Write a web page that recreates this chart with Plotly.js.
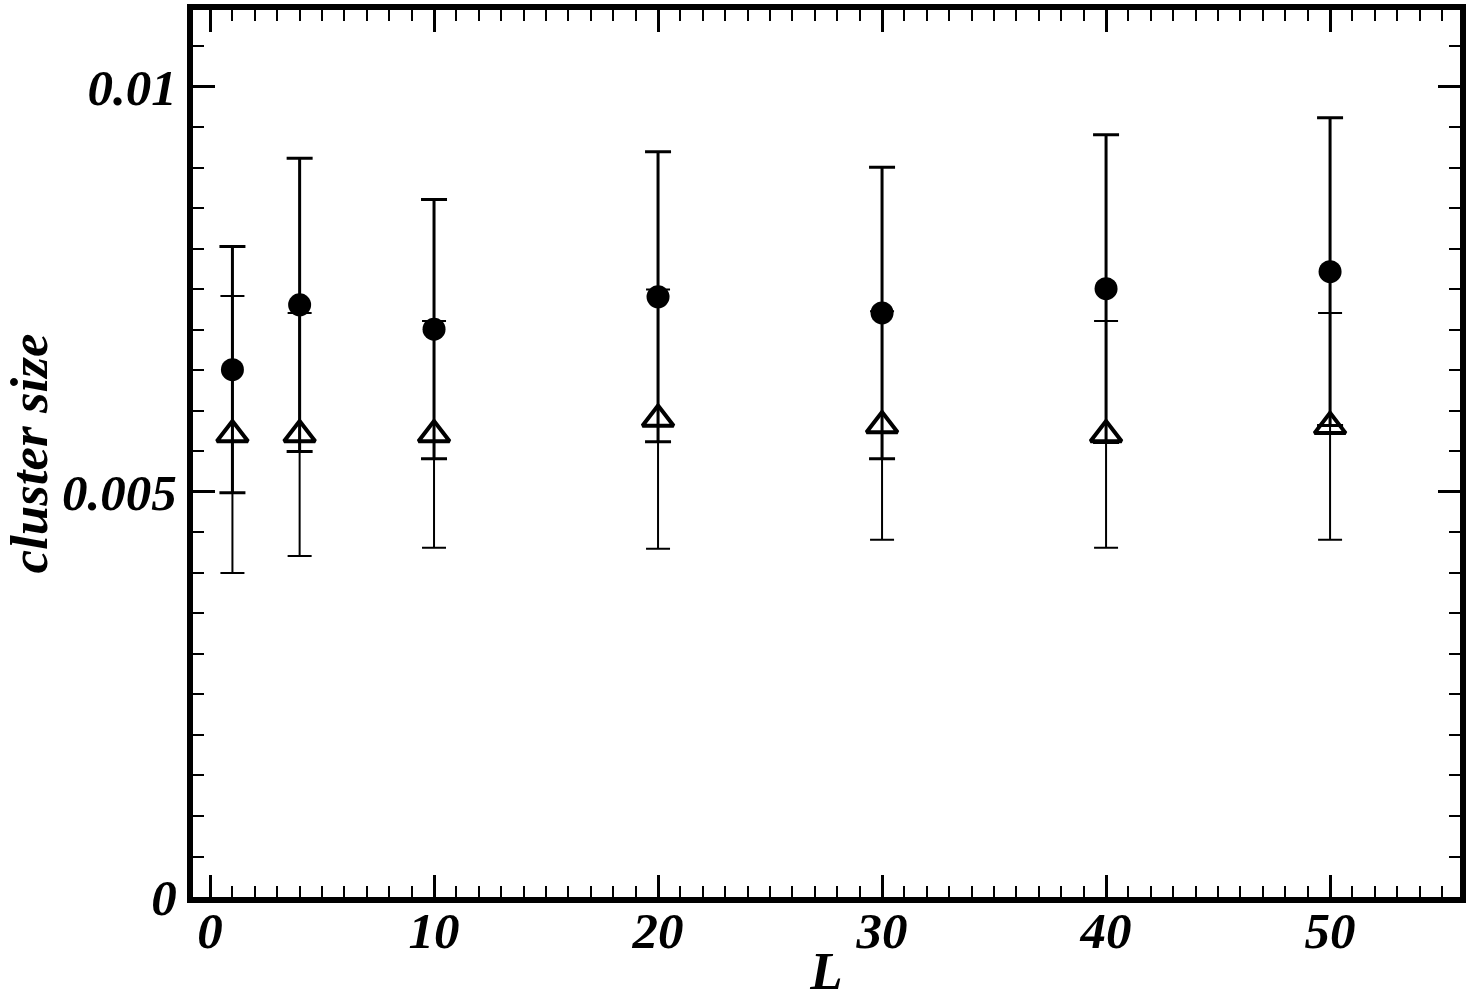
<!DOCTYPE html>
<html>
<head>
<meta charset="utf-8">
<script src="https://cdn.plot.ly/plotly-3.0.1.min.js"></script>
<style>
  html, body { margin: 0; padding: 0; background: #fff; }
  #plot { width: 1471px; height: 1000px; }
</style>
</head>
<body>
<div id="plot"></div>
<script>
// system size L
var L = [1, 4, 10, 20, 30, 40, 50];

// filled circles
var circleY = [0.00651, 0.00731, 0.00701, 0.00741, 0.00721, 0.00751, 0.00772];
var circleErr = [0.00152, 0.00181, 0.00160, 0.00179, 0.00180, 0.00190, 0.00190];

// open triangles
var triY = [0.00571, 0.00571, 0.00571, 0.00590, 0.00582, 0.00571, 0.00581];
var triErr = [0.00171, 0.00150, 0.00140, 0.00160, 0.00141, 0.00140, 0.00140];

var yTickVals = [0, 0.005, 0.01];
var yTickText = ["0", "0.005", "0.01"];
var xTickVals = [0, 10, 20, 30, 40, 50];

var bigFont = { family: "Liberation Serif", size: 51, color: "#000", weight: "bold", style: "italic" };
var titleFont = { family: "Liberation Serif", size: 53, color: "#000", weight: "bold", style: "italic" };

var traces = [
  {
    x: L,
    y: triY,
    type: "scatter",
    mode: "markers",
    marker: {
      symbol: "triangle-up-open",
      size: 27,
      color: "#000",
      line: { width: 4, color: "#000" },
    },
    error_y: {
      type: "data",
      array: triErr,
      visible: true,
      color: "#000",
      thickness: 2,
      width: 12,
    },
  },
  {
    x: L,
    y: circleY,
    type: "scatter",
    mode: "markers",
    marker: {
      symbol: "circle",
      size: 23,
      color: "#000",
    },
    error_y: {
      type: "data",
      array: circleErr,
      visible: true,
      color: "#000",
      thickness: 3,
      width: 13,
    },
  },
];

var axisCommon = {
  showline: true,
  linewidth: 6,
  linecolor: "#000",
  mirror: "allticks",
  ticks: "inside",
  tickcolor: "#000",
  tickwidth: 3,
  ticklen: 22,
  showgrid: false,
  zeroline: false,
  tickfont: bigFont,
};

var layout = {
  width: 1471,
  height: 1000,
  margin: { l: 193, r: 11, t: 10, b: 103 },
  paper_bgcolor: "#fff",
  plot_bgcolor: "#fff",
  showlegend: false,
  xaxis: Object.assign({}, axisCommon, {
    range: [-0.76, 55.8],
    tickvals: xTickVals,
    ticktext: xTickVals.map(String),
    ticklabelstandoff: -16,
    minor: { dtick: 1, ticks: "inside", ticklen: 11, tickwidth: 2, tickcolor: "#000", showgrid: false },
    title: { text: "L", font: titleFont, standoff: 25 },
  }),
  yaxis: Object.assign({}, axisCommon, {
    range: [0, 0.01095],
    tickvals: yTickVals,
    ticktext: yTickText,
    minor: { dtick: 0.0005, ticks: "inside", ticklen: 11, tickwidth: 2, tickcolor: "#000", showgrid: false },
    title: { text: "cluster size", font: titleFont, standoff: 16 },
  }),
};

Plotly.newPlot("plot", traces, layout, { staticPlot: true });
</script>
</body>
</html>
